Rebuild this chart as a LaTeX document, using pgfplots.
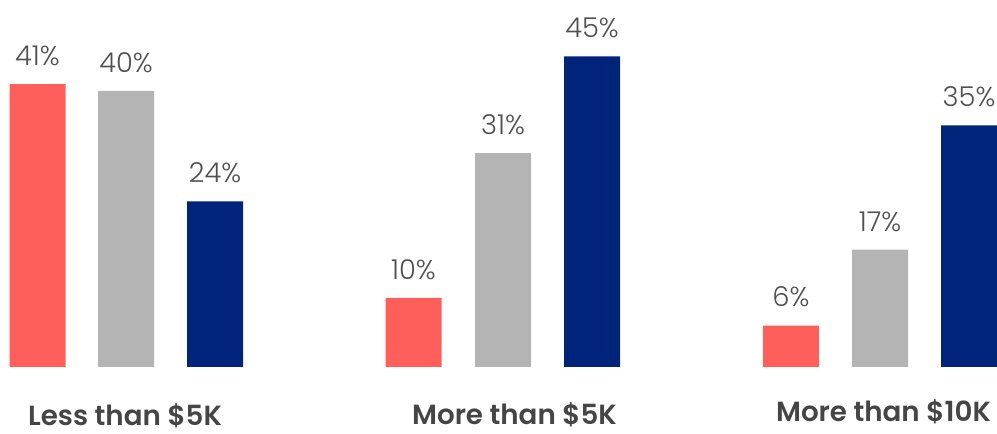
\documentclass[border=0pt]{standalone}
\usepackage{pgfplots}
\pgfplotsset{compat=1.18}
\usepackage{fontspec}
\setmainfont{Poppins}
\newfontfamily\lightfont{Poppins Light}
\newfontfamily\boldfont{Poppins SemiBold}
\definecolor{cred}{HTML}{FF5F5A}
\definecolor{cgrey}{HTML}{B4B4B4}
\definecolor{cnavy}{HTML}{00247A}
\definecolor{ctext}{HTML}{505050}
\definecolor{clabel}{HTML}{454545}
\begin{document}
\begin{tikzpicture}
\begin{axis}[
  name=ax,
  scale only axis,
  width=747.75pt, height=325.5pt,
  xmin=0, xmax=997,
  ymin=-9.710, ymax=53.188,
  hide axis,
  clip=false,
  ybar,
  bar width=42pt,
  bar shift=0pt,
  nodes near coords={\lightfont\fontsize{20.5}{24}\selectfont\pgfmathprintnumber[assume math mode=true]{\pgfplotspointmeta}\%},
  every node near coord/.append style={anchor=base, yshift=14pt, text=ctext},
]
\addplot[fill=cred, draw=none] coordinates {(37.5,41) (413.5,10) (791,6)};
\addplot[fill=cgrey, draw=none] coordinates {(126,40) (503,31) (880,17)};
\addplot[fill=cnavy, draw=none] coordinates {(215,24) (592,45) (969,35)};
\node[anchor=base, text=clabel, font=\boldfont\fontsize{20.8}{24}\selectfont, inner sep=0pt] at (axis cs:125,-8.55) {Less than \$5K};
\node[anchor=base, text=clabel, font=\boldfont\fontsize{20.8}{24}\selectfont, inner sep=0pt] at (axis cs:514.5,-8.40) {More than \$5K};
\node[anchor=base, text=clabel, font=\boldfont\fontsize{20.8}{24}\selectfont, inner sep=0pt] at (axis cs:883.5,-7.84) {More than \$10K};
\end{axis}
\pgfresetboundingbox
\useasboundingbox (ax.south west) rectangle (ax.north east);
\end{tikzpicture}
\end{document}
